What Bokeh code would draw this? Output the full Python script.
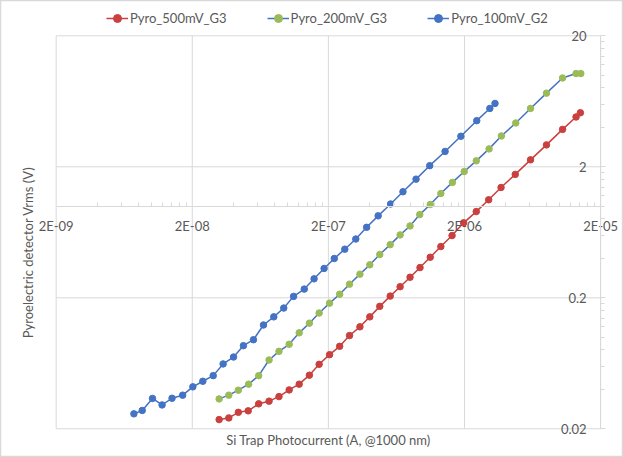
import math
from bokeh.plotting import figure
from bokeh.models import FixedTicker, Legend, LegendItem, Label, Range1d
from bokeh.embed import file_html
from bokeh.resources import INLINE

# ---- data ----
x_ticks = [2e-9, 2e-8, 2e-7, 2e-6, 2e-5]
x_tick_labels = ["2E-09", "2E-08", "2E-07", "2E-06", "2E-05"]
y_ticks = [0.02, 0.2, 2, 20]
y_tick_labels = ["0.02", "0.2", "2", "20"]
minor_steps = [2, 3, 4, 5, 6, 7, 8, 9]

x_500 = [3.15e-8, 3.71e-8, 4.36e-8, 5.15e-8, 6.15e-8, 7.33e-8, 8.67e-8, 1.03e-7,
         1.22e-7, 1.45e-7, 1.71e-7, 2.04e-7, 2.42e-7, 2.86e-7, 3.41e-7, 4.03e-7,
         4.77e-7, 5.69e-7, 6.73e-7, 7.96e-7, 9.42e-7, 1.12e-6, 1.34e-6, 1.62e-6,
         1.97e-6, 2.44e-6, 3.01e-6, 3.71e-6, 4.72e-6, 6.11e-6, 8.00e-6, 1.05e-5,
         1.32e-5, 1.42e-5]
y_500 = [0.0235, 0.0242, 0.0267, 0.0274, 0.0310, 0.0325, 0.0352, 0.0396,
         0.0438, 0.0513, 0.0621, 0.0736, 0.0852, 0.103, 0.120, 0.143,
         0.172, 0.206, 0.243, 0.287, 0.340, 0.408, 0.492, 0.597,
         0.747, 0.910, 1.12, 1.39, 1.75, 2.26, 2.94, 3.86,
         4.80, 5.17]

x_200 = [3.15e-8, 3.71e-8, 4.36e-8, 5.19e-8, 6.15e-8, 7.33e-8, 8.67e-8, 1.03e-7,
         1.22e-7, 1.45e-7, 1.71e-7, 2.04e-7, 2.42e-7, 2.86e-7, 3.41e-7, 4.03e-7,
         4.77e-7, 5.69e-7, 6.73e-7, 7.96e-7, 9.38e-7, 1.12e-6, 1.34e-6, 1.63e-6,
         1.99e-6, 2.44e-6, 3.03e-6, 3.73e-6, 4.76e-6, 6.11e-6, 8.00e-6, 1.05e-5,
         1.32e-5, 1.43e-5]
y_200 = [0.0338, 0.0361, 0.0394, 0.0438, 0.0509, 0.0670, 0.0780, 0.0883,
         0.108, 0.128, 0.153, 0.182, 0.213, 0.254, 0.303, 0.357,
         0.428, 0.509, 0.604, 0.707, 0.863, 1.03, 1.25, 1.52,
         1.84, 2.22, 2.74, 3.44, 4.32, 5.58, 7.30, 9.53,
         10.3, 10.3]

x_100 = [7.45e-9, 8.58e-9, 1.02e-8, 1.20e-8, 1.42e-8, 1.70e-8, 2.02e-8, 2.39e-8,
         2.85e-8, 3.37e-8, 4.02e-8, 4.75e-8, 5.63e-8, 6.67e-8, 7.94e-8, 9.40e-8,
         1.11e-7, 1.33e-7, 1.57e-7, 1.86e-7, 2.21e-7, 2.64e-7, 3.18e-7, 3.82e-7,
         4.64e-7, 5.73e-7, 7.06e-7, 8.81e-7, 1.11e-6, 1.44e-6, 1.88e-6, 2.46e-6,
         3.07e-6, 3.35e-6]
y_100 = [0.0260, 0.0276, 0.0341, 0.0304, 0.0342, 0.0361, 0.0418, 0.0461,
         0.0509, 0.0625, 0.0706, 0.0862, 0.0957, 0.124, 0.143, 0.167,
         0.205, 0.233, 0.279, 0.335, 0.399, 0.470, 0.562, 0.690,
         0.844, 1.04, 1.29, 1.61, 2.04, 2.62, 3.42, 4.50,
         5.58, 6.09]

series_names = ["Pyro_500mV_G3", "Pyro_200mV_G3", "Pyro_100mV_G2"]
x_title = "Si Trap Photocurrent (A, @1000 nm)"
y_title = "Pyroelectric detector Vrms (V)"

RED = "#C9403F"
GREEN = "#9BBB59"
BLUE = "#4472C4"
GRID = "#D9D9D9"
TEXT = "#595959"
FONT = "Lato"

# view extends beyond the plot area so that texts outside it are not clipped
p = figure(width=623, height=457, x_axis_type="log", y_axis_type="log",
           x_range=Range1d(7.80e-10, 2.945e-5), y_range=Range1d(0.01207, 37.2),
           output_backend="svg", toolbar_location=None,
           min_border_left=0, min_border_right=0, min_border_top=0, min_border_bottom=0)
p.outline_line_color = GRID
p.outline_line_width = 1.5
p.background_fill_color = "white"
p.border_fill_color = "white"
p.xgrid.visible = False
p.ygrid.visible = False

x_lo, x_hi = x_ticks[0], x_ticks[-1]
y_lo, y_hi = y_ticks[0], y_ticks[-1]

# grid lines restricted to the plot area
p.segment(x0=x_ticks, y0=[y_lo] * len(x_ticks), x1=x_ticks, y1=[y_hi] * len(x_ticks),
          line_color=GRID, line_width=1)
p.segment(x0=[x_lo] * len(y_ticks), y0=y_ticks, x1=[x_hi] * len(y_ticks), y1=y_ticks,
          line_color=GRID, line_width=1)

x_minor = [t * k for t in x_ticks[:-1] for k in minor_steps]
y_minor = [t * k for t in y_ticks[:-1] for k in minor_steps]
xt = FixedTicker(ticks=x_ticks, minor_ticks=x_minor)
yt = FixedTicker(ticks=y_ticks, minor_ticks=y_minor)

xa = p.xaxis[0]
xa.ticker = xt
xa.fixed_location = 1
xa.bounds = (x_lo, x_hi)
xa.major_label_overrides = dict(zip(x_ticks, x_tick_labels))
xa.axis_line_color = GRID
xa.major_tick_line_color = GRID
xa.minor_tick_line_color = GRID
xa.major_tick_in = 0
xa.major_tick_out = 0
xa.minor_tick_in = 4
xa.minor_tick_out = 0
xa.major_label_standoff = 12
xa.major_label_text_font = FONT
xa.major_label_text_font_size = "13px"
xa.major_label_text_color = TEXT

ya = p.yaxis[0]
ya.ticker = yt
ya.fixed_location = x_hi
ya.bounds = (y_lo, y_hi)
ya.major_label_overrides = dict(zip(y_ticks, y_tick_labels))
ya.axis_line_color = GRID
ya.major_tick_line_color = GRID
ya.minor_tick_line_color = GRID
ya.major_tick_in = 5
ya.major_tick_out = 0
ya.minor_tick_in = 4
ya.minor_tick_out = 0
ya.major_label_standoff = 14
ya.major_label_text_font = FONT
ya.major_label_text_font_size = "13px"
ya.major_label_text_color = TEXT

items = []
for name, xs, ys, lc, mc in [(series_names[0], x_500, y_500, RED, RED),
                             (series_names[1], x_200, y_200, BLUE, GREEN),
                             (series_names[2], x_100, y_100, BLUE, BLUE)]:
    lr = p.line(xs, ys, line_color=lc, line_width=1.5)
    sr = p.scatter(xs, ys, size=6.5, fill_color=mc, line_color=mc)
    items.append(LegendItem(label=name, renderers=[lr, sr]))

legend = Legend(items=items, orientation="horizontal", location=(106, 429),
                glyph_width=22, glyph_height=20, label_height=20, label_standoff=2,
                spacing=40, padding=0, margin=0, border_line_color=None,
                background_fill_alpha=0, label_text_font=FONT,
                label_text_font_size="13px", label_text_color=TEXT)
p.add_layout(legend)

p.add_layout(Label(x=x_ticks[2], y=0.0163, text=x_title, text_align="center",
                   text_baseline="middle", text_font=FONT, text_font_size="13px",
                   text_color=TEXT))
p.add_layout(Label(x=1.25e-9, y=0.444, text=y_title, angle=math.pi / 2,
                   text_align="center", text_baseline="middle", text_font=FONT,
                   text_font_size="13px", text_color=TEXT))

open("out.html", "w").write(file_html(p, INLINE))
